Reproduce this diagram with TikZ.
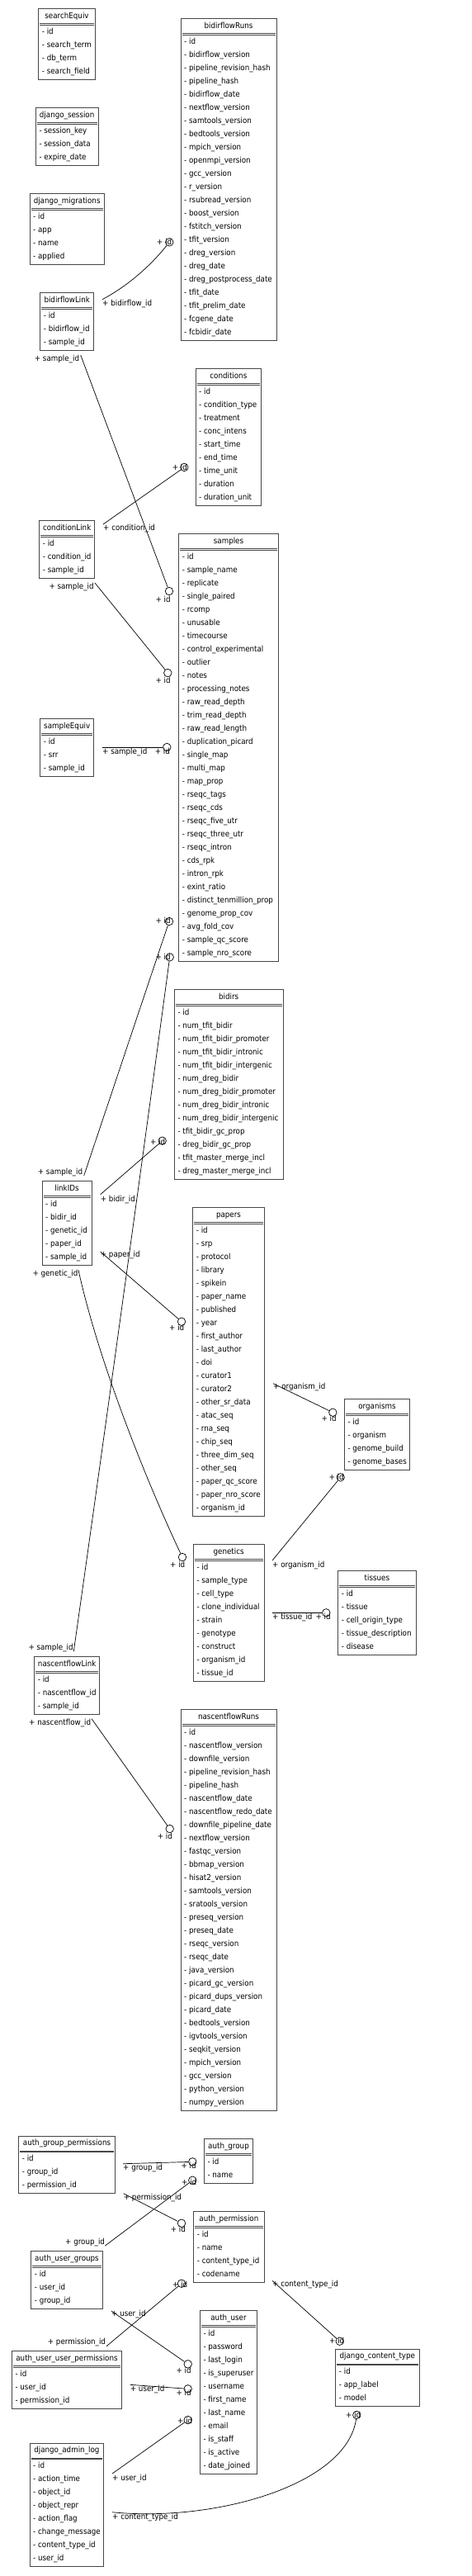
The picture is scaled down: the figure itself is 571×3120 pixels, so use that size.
\documentclass[tikz,border=0pt]{standalone}
\usepackage{fontspec}
\setmainfont{DejaVu Sans}[FakeStretch=0.9]
\usetikzlibrary{positioning,calc}

% one database table: #1 node name, #2 title, #3 left x, #4 top y, #5 right x, #6 fields
\newcommand{\dbtable}[6]{%
  \node[tbltitle] (#1) at ({(#3+#5)/2},#4+8) {#2};
  \xdef\nrows{0}%
  \foreach \fld [count=\k] in {#6}{%
    \node[fieldrow] (#1-\k) at (#3+4,{#4+27+16*(\k-1)}) {- \fld};
    \xdef\nrows{\k}}%
  \draw[tblframe] (#3,#4) rectangle (#5,{#4+21.5+16*\nrows});
  \draw[tblframe] (#3+1.5,#4+17.7) -- (#5-1.5,#4+17.7);
  \draw[tblframe] (#3+1.5,#4+19.5) -- (#5-1.5,#4+19.5);
}

\begin{document}
\begin{tikzpicture}[
  x=1pt, y=-1pt,
  font=\fontsize{9.7}{11}\selectfont,
  tbltitle/.style={inner sep=0pt, text height=7pt, text depth=0pt},
  fieldrow/.style={anchor=west, inner sep=0pt, text height=7pt, text depth=0pt},
  fklabel/.style={fieldrow},
  tblframe/.style={draw=black!72, line width=0.9pt},
  fk/.style={line width=0.7pt},
  fkend/.style={circle, draw, line width=0.7pt, inner sep=0pt, minimum size=9.5pt},
]
\fill[white] (0,0) rectangle (571,3120);
\useasboundingbox (0,0) rectangle (571,3120);

% tables
\dbtable{searchEquiv}{searchEquiv}{46.7}{10.7}{115.3}{id,search\_term,db\_term,search\_field}
\dbtable{djangoSession}{django\_session}{43.3}{130.7}{119}{session\_key,session\_data,expire\_date}
\dbtable{djangoMigrations}{django\_migrations}{36}{234.7}{126.3}{id,app,name,applied}
\dbtable{bidirflowRuns}{bidirflowRuns}{219}{22.7}{335}{id,bidirflow\_version,pipeline\_revision\_hash,pipeline\_hash,bidirflow\_date,nextflow\_version,samtools\_version,bedtools\_version,mpich\_version,openmpi\_version,gcc\_version,r\_version,rsubread\_version,boost\_version,fstitch\_version,tfit\_version,dreg\_version,dreg\_date,dreg\_postprocess\_date,tfit\_date,tfit\_prelim\_date,fcgene\_date,fcbidir\_date}
\dbtable{bidirflowLink}{bidirflowLink}{48.7}{354.7}{113.7}{id,bidirflow\_id,sample\_id}
\dbtable{conditions}{conditions}{237}{446.7}{316.7}{id,condition\_type,treatment,conc\_intens,start\_time,end\_time,time\_unit,duration,duration\_unit}
\dbtable{conditionLink}{conditionLink}{47.7}{630.7}{114.7}{id,condition\_id,sample\_id}
\dbtable{samples}{samples}{216.7}{646.7}{337.3}{id,sample\_name,replicate,single\_paired,rcomp,unusable,timecourse,control\_experimental,outlier,notes,processing\_notes,raw\_read\_depth,trim\_read\_depth,raw\_read\_length,duplication\_picard,single\_map,multi\_map,map\_prop,rseqc\_tags,rseqc\_cds,rseqc\_five\_utr,rseqc\_three\_utr,rseqc\_intron,cds\_rpk,intron\_rpk,exint\_ratio,distinct\_tenmillion\_prop,genome\_prop\_cov,avg\_fold\_cov,sample\_qc\_score,sample\_nro\_score}
\dbtable{sampleEquiv}{sampleEquiv}{48.7}{870.7}{113.7}{id,srr,sample\_id}
\dbtable{bidirs}{bidirs}{211.3}{1198.7}{343}{id,num\_tfit\_bidir,num\_tfit\_bidir\_promoter,num\_tfit\_bidir\_intronic,num\_tfit\_bidir\_intergenic,num\_dreg\_bidir,num\_dreg\_bidir\_promoter,num\_dreg\_bidir\_intronic,num\_dreg\_bidir\_intergenic,tfit\_bidir\_gc\_prop,dreg\_bidir\_gc\_prop,tfit\_master\_merge\_incl,dreg\_master\_merge\_incl}
\dbtable{linkIDs}{linkIDs}{51}{1430.7}{111}{id,bidir\_id,genetic\_id,paper\_id,sample\_id}
\dbtable{papers}{papers}{233.7}{1462.7}{320.3}{id,srp,protocol,library,spikein,paper\_name,published,year,first\_author,last\_author,doi,curator1,curator2,other\_sr\_data,atac\_seq,rna\_seq,chip\_seq,three\_dim\_seq,other\_seq,paper\_qc\_score,paper\_nro\_score,organism\_id}
\dbtable{organisms}{organisms}{417.3}{1694.7}{496.7}{id,organism,genome\_build,genome\_bases}
\dbtable{genetics}{genetics}{234.3}{1870.7}{320}{id,sample\_type,cell\_type,clone\_individual,strain,genotype,construct,organism\_id,tissue\_id}
\dbtable{tissues}{tissues}{409.7}{1902.7}{504}{id,tissue,cell\_origin\_type,tissue\_description,disease}
\dbtable{nascentflowLink}{nascentflowLink}{41.7}{2006.7}{120.7}{id,nascentflow\_id,sample\_id}
\dbtable{nascentflowRuns}{nascentflowRuns}{219}{2070.7}{335}{id,nascentflow\_version,downfile\_version,pipeline\_revision\_hash,pipeline\_hash,nascentflow\_date,nascentflow\_redo\_date,downfile\_pipeline\_date,nextflow\_version,fastqc\_version,bbmap\_version,hisat2\_version,samtools\_version,sratools\_version,preseq\_version,preseq\_date,rseqc\_version,rseqc\_date,java\_version,picard\_gc\_version,picard\_dups\_version,picard\_date,bedtools\_version,igvtools\_version,seqkit\_version,mpich\_version,gcc\_version,python\_version,numpy\_version}
\dbtable{authGroupPerms}{auth\_group\_permissions}{22.7}{2587.3}{139.3}{id,group\_id,permission\_id}
\dbtable{authGroup}{auth\_group}{247.3}{2590.7}{306.7}{id,name}
\dbtable{authPerm}{auth\_permission}{234.7}{2678.7}{320}{id,name,content\_type\_id,codename}
\dbtable{authUserGroups}{auth\_user\_groups}{37.7}{2726.7}{124.3}{id,user\_id,group\_id}
\dbtable{authUser}{auth\_user}{242.3}{2798.7}{311.7}{id,password,last\_login,is\_superuser,username,first\_name,last\_name,email,is\_staff,is\_active,date\_joined}
\dbtable{djangoCT}{django\_content\_type}{406.7}{2845.3}{508}{id,app\_label,model}
\dbtable{authUserPerms}{auth\_user\_user\_permissions}{14.3}{2847.7}{147.7}{id,user\_id,permission\_id}
\dbtable{djangoAdminLog}{django\_admin\_log}{36}{2959.3}{125.7}{id,action\_time,object\_id,object\_repr,action\_flag,change\_message,content\_type\_id,user\_id}

% foreign keys
\coordinate (bfl-run) at (124,362.7);
\node[fkend] (bfr-id) at (205.3,293.3) {};
\draw[fk] (bfl-run) .. controls (157,345) and (183,321) .. (bfr-id);
\node[fklabel] (bfl-run-l) at (124,366.7) {+ bidirflow\_id};
\node[fklabel] (bfr-id-l) at (190,293.3) {+ id};

\coordinate (bfl-smp) at (97.7,430);
\node[fkend] (smp-id1) at (205,716) {};
\draw[fk] (bfl-smp) -- (smp-id1);
\node[fklabel] (bfl-smp-l) at (41.7,433.7) {+ sample\_id};
\node[fklabel] (smp-id1-l) at (188.3,726) {+ id};

\coordinate (cl-cond) at (125,635);
\node[fkend] (cond-id) at (223.3,566) {};
\draw[fk] (cl-cond) -- (cond-id);
\node[fklabel] (cl-cond-l) at (125,639.3) {+ condition\_id};
\node[fklabel] (cond-id-l) at (208.7,566) {+ id};

\coordinate (cl-smp) at (115,706);
\node[fkend] (smp-id2) at (203.3,815) {};
\draw[fk] (cl-smp) -- (smp-id2);
\node[fklabel] (cl-smp-l) at (59.3,710) {+ sample\_id};
\node[fklabel] (smp-id2-l) at (188.3,824) {+ id};

\coordinate (se-smp) at (124,905);
\node[fkend] (smp-id3) at (202.3,905) {};
\draw[fk] (se-smp) -- (smp-id3);
\node[fklabel] (se-smp-l) at (124,910) {+ sample\_id};
\node[fklabel] (smp-id3-l) at (187.7,910) {+ id};

\coordinate (li-smp) at (101.7,1424);
\node[fkend] (smp-id4) at (205,1116) {};
\draw[fk] (li-smp) -- (smp-id4);
\node[fklabel] (li-smp-l) at (45.7,1419) {+ sample\_id};
\node[fklabel] (smp-id4-l) at (188.3,1115.3) {+ id};

\coordinate (li-gen) at (95,1538.3);
\node[fkend] (gen-id) at (221,1886) {};
\draw[fk] (li-gen) .. controls (122,1660) and (185,1810) .. (gen-id);
\node[fklabel] (li-gen-l) at (39.3,1542) {+ genetic\_id};
\node[fklabel] (gen-id-l) at (206,1895) {+ id};

\coordinate (li-bid) at (121.7,1446.7);
\node[fkend] (bid-id) at (196.7,1381.7) {};
\draw[fk] (li-bid) -- (bid-id);
\node[fklabel] (li-bid-l) at (121.7,1451.7) {+ bidir\_id};
\node[fklabel] (bid-id-l) at (182,1382.7) {+ id};

\coordinate (li-pap) at (121.7,1516);
\node[fkend] (pap-id) at (220,1600.7) {};
\draw[fk] (li-pap) -- (pap-id);
\node[fklabel] (li-pap-l) at (121.7,1519) {+ paper\_id};
\node[fklabel] (pap-id-l) at (205,1608) {+ id};

\coordinate (nfl-smp) at (89.3,2000);
\node[fkend] (smp-id5) at (205.7,1159.3) {};
\draw[fk] (nfl-smp) .. controls (125,1750) and (187,1300) .. (smp-id5);
\node[fklabel] (nfl-smp-l) at (34.3,1994.7) {+ sample\_id};
\node[fklabel] (smp-id5-l) at (188.3,1159) {+ id};

\coordinate (pap-org) at (331,1675.7);
\node[fkend] (org-id1) at (403.3,1710.7) {};
\draw[fk] (pap-org) -- (org-id1);
\node[fklabel] (pap-org-l) at (331,1679.3) {+ organism\_id};
\node[fklabel] (org-id1-l) at (389.3,1718) {+ id};

\coordinate (gen-org) at (330,1890);
\node[fkend] (org-id2) at (412.7,1789.3) {};
\draw[fk] (gen-org) -- (org-id2);
\node[fklabel] (gen-org-l) at (330,1894.7) {+ organism\_id};
\node[fklabel] (org-id2-l) at (398.3,1789.3) {+ id};

\coordinate (gen-tis) at (330,1953.3);
\node[fkend] (tis-id) at (395.3,1953.3) {};
\draw[fk] (gen-tis) -- (tis-id);
\node[fklabel] (gen-tis-l) at (330,1957.7) {+ tissue\_id};
\node[fklabel] (tis-id-l) at (382.3,1957.7) {+ id};

\coordinate (nfl-run) at (111,2081.7);
\node[fkend] (nfr-id) at (205.7,2215) {};
\draw[fk] (nfl-run) -- (nfr-id);
\node[fklabel] (nfl-run-l) at (35,2086) {+ nascentflow\_id};
\node[fklabel] (nfr-id-l) at (190.7,2224) {+ id};

\coordinate (agp-grp) at (149,2620.7);
\node[fkend] (ag-id1) at (233.3,2618.3) {};
\draw[fk] (agp-grp) -- (ag-id1);
\node[fklabel] (agp-grp-l) at (149,2625) {+ group\_id};
\node[fklabel] (ag-id1-l) at (219.3,2623) {+ id};

\coordinate (aug-grp) at (127.3,2720);
\node[fkend] (ag-id2) at (233.3,2640.7) {};
\draw[fk] (aug-grp) -- (ag-id2);
\node[fklabel] (aug-grp-l) at (79,2715) {+ group\_id};
\node[fklabel] (ag-id2-l) at (220,2643) {+ id};

\coordinate (agp-perm) at (149.7,2656.7);
\node[fkend] (ap-id1) at (220,2692.7) {};
\draw[fk] (agp-perm) -- (ap-id1);
\node[fklabel] (agp-perm-l) at (149.7,2660.7) {+ permission\_id};
\node[fklabel] (ap-id1-l) at (206.7,2700) {+ id};

\coordinate (aup-perm) at (129,2841.7);
\node[fkend] (ap-id2) at (220,2765.7) {};
\draw[fk] (aup-perm) -- (ap-id2);
\node[fklabel] (aup-perm-l) at (57.7,2836) {+ permission\_id};
\node[fklabel] (ap-id2-l) at (209,2767) {+ id};

\coordinate (aug-usr) at (135,2799);
\node[fkend] (au-id1) at (227.7,2863.3) {};
\draw[fk] (aug-usr) -- (au-id1);
\node[fklabel] (aug-usr-l) at (135,2802.3) {+ user\_id};
\node[fklabel] (au-id1-l) at (213.3,2871) {+ id};

\coordinate (aup-usr) at (157.7,2888.3);
\node[fkend] (au-id2) at (227.7,2893.3) {};
\draw[fk] (aup-usr) -- (au-id2);
\node[fklabel] (aup-usr-l) at (157.7,2892.7) {+ user\_id};
\node[fklabel] (au-id2-l) at (213.3,2898.3) {+ id};

\coordinate (dal-usr) at (136,2996);
\node[fkend] (au-id3) at (227.7,2931) {};
\draw[fk] (dal-usr) -- (au-id3);
\node[fklabel] (dal-usr-l) at (136,3000.7) {+ user\_id};
\node[fklabel] (au-id3-l) at (215,2932) {+ id};

\coordinate (dal-ct) at (136,3042.7);
\node[fkend] (dct-id1) at (432.3,2925) {};
\draw[fk] (dal-ct) .. controls (260,3055) and (420,3010) .. (dct-id1);
\node[fklabel] (dal-ct-l) at (136,3047.7) {+ content\_type\_id};
\node[fklabel] (dct-id1-l) at (419,2925) {+ id};

\coordinate (ap-ct) at (330,2762.3);
\node[fkend] (dct-id2) at (411.7,2835.7) {};
\draw[fk] (ap-ct) -- (dct-id2);
\node[fklabel] (ap-ct-l) at (330,2765.7) {+ content\_type\_id};
\node[fklabel] (dct-id2-l) at (399,2835) {+ id};
\end{tikzpicture}
\end{document}
